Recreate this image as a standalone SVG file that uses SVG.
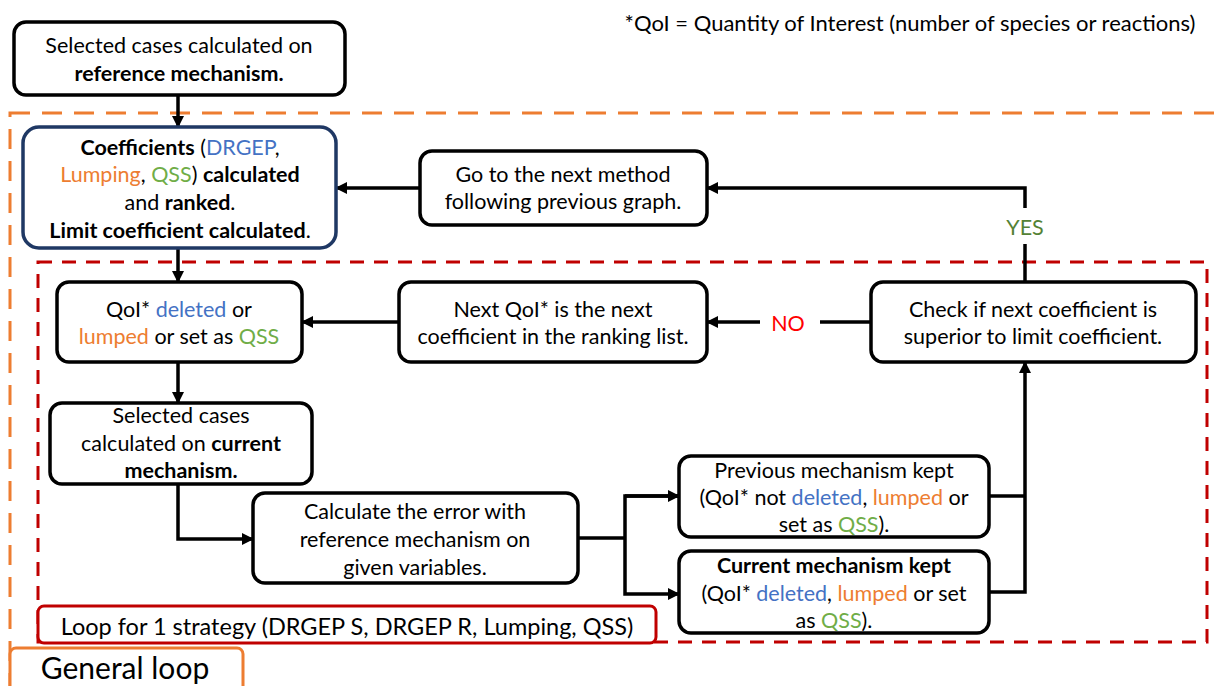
<svg xmlns="http://www.w3.org/2000/svg" width="1221" height="686" viewBox="0 0 1221 686">
<defs>
<marker id="arr" markerWidth="12" markerHeight="12" refX="11" refY="6" orient="auto" markerUnits="userSpaceOnUse">
<path d="M0,0 L12,6 L0,12 Z" fill="#000"/>
</marker>
<style>
text{font-family:Lato,"Liberation Sans",sans-serif;font-size:21.5px;fill:#000;text-anchor:middle}
.b{font-weight:bold}
.bl{fill:#4472c4}
.or{fill:#ed7d31}
.gr{fill:#70ad47}
.box{fill:#fff;stroke:#000;stroke-width:3.5}
.c{fill:none;stroke:#000;stroke-width:3.5}
</style>
</defs>
<rect width="1221" height="686" fill="#fff"/>
<g id="general-loop-frame">
<rect x="10" y="113" width="1230" height="580" fill="none" stroke="#ed7d31" stroke-width="3" stroke-dasharray="20,12"/>
</g>
<g id="strategy-loop-frame">
<rect x="38" y="262" width="1169" height="380" fill="none" stroke="#c00000" stroke-width="3" stroke-dasharray="14,10"/>
</g>
<text x="910" y="31" style="font-size:22px">*QoI = Quantity of Interest (number of species or reactions)</text>
<g id="connectors">
<line class="c" x1="178" y1="95" x2="178" y2="127" marker-end="url(#arr)"/>
<line class="c" x1="420" y1="188" x2="336" y2="188" marker-end="url(#arr)"/>
<polyline class="c" points="1025,282 1025,244"/>
<polyline class="c" points="1025,208 1025,188 707,188" marker-end="url(#arr)"/>
<line class="c" x1="178" y1="248" x2="178" y2="282" marker-end="url(#arr)"/>
<line class="c" x1="399" y1="322" x2="302" y2="322" marker-end="url(#arr)"/>
<line class="c" x1="871" y1="322" x2="820" y2="322"/>
<line class="c" x1="760" y1="322" x2="707" y2="322" marker-end="url(#arr)"/>
<line class="c" x1="178" y1="362" x2="178" y2="403" marker-end="url(#arr)"/>
<polyline class="c" points="178,484 178,539 253,539" marker-end="url(#arr)"/>
<line class="c" x1="578" y1="538" x2="625" y2="538"/>
<polyline class="c" points="679,496 625,496 625,594 679,594" marker-end="url(#arr)"/>
<line class="c" x1="625" y1="496" x2="679" y2="496" marker-end="url(#arr)"/>
<polyline class="c" points="989,496 1025,496"/>
<polyline class="c" points="989,592 1025,592 1025,362" marker-end="url(#arr)"/>
<text x="1025" y="235" style="fill:#548235">YES</text>
<text x="788" y="331" style="fill:#ff0000">NO</text>
</g>
<g id="ref-cases">
<rect class="box" x="14" y="22" width="331" height="73" rx="12"/>
<text x="179" y="53">Selected cases calculated on</text>
<text x="179" y="81" class="b">reference mechanism.</text>
</g>
<g id="coefficients">
<rect x="23" y="127" width="313" height="121" rx="16" fill="#fff" stroke="#1f3864" stroke-width="3.5"/>
<text x="180" y="155"><tspan class="b">Coefficients</tspan> (<tspan class="bl">DRGEP</tspan>,</text>
<text x="180" y="182"><tspan class="or">Lumping</tspan>, <tspan class="gr">QSS</tspan>) <tspan class="b">calculated</tspan></text>
<text x="180" y="210">and <tspan class="b">ranked</tspan>.</text>
<text x="180" y="238"><tspan class="b">Limit coefficient calculated</tspan>.</text>
</g>
<g id="next-method">
<rect class="box" x="420" y="151" width="287" height="74" rx="12"/>
<text x="563" y="182">Go to the next method</text>
<text x="563" y="209">following previous graph.</text>
</g>
<g id="qoi-action">
<rect class="box" x="57" y="282" width="245" height="80" rx="12"/>
<text x="179" y="317">QoI* <tspan class="bl">deleted</tspan> or</text>
<text x="179" y="344"><tspan class="or">lumped</tspan> or set as <tspan class="gr">QSS</tspan></text>
</g>
<g id="next-qoi">
<rect class="box" x="399" y="282" width="308" height="80" rx="12"/>
<text x="553" y="317">Next QoI* is the next</text>
<text x="553" y="344">coefficient in the ranking list.</text>
</g>
<g id="check">
<rect class="box" x="871" y="282" width="325" height="80" rx="12"/>
<text x="1033" y="317">Check if next coefficient is</text>
<text x="1033" y="344">superior to limit coefficient.</text>
</g>
<g id="current-cases">
<rect class="box" x="50" y="403" width="262" height="81" rx="12"/>
<text x="181" y="423">Selected cases</text>
<text x="181" y="451">calculated on <tspan class="b">current</tspan></text>
<text x="181" y="478" class="b">mechanism.</text>
</g>
<g id="error">
<rect class="box" x="253" y="493" width="325" height="90" rx="12"/>
<text x="415" y="519">Calculate the error with</text>
<text x="415" y="547">reference mechanism on</text>
<text x="415" y="575">given variables.</text>
</g>
<g id="previous-kept">
<rect class="box" x="679" y="456" width="310" height="81" rx="12"/>
<text x="834" y="478">Previous mechanism kept</text>
<text x="834" y="505">(QoI* not <tspan class="bl">deleted</tspan>, <tspan class="or">lumped</tspan> or</text>
<text x="834" y="532">set as <tspan class="gr">QSS</tspan>).</text>
</g>
<g id="current-kept">
<rect class="box" x="679" y="551" width="310" height="82" rx="12"/>
<text x="834" y="573" class="b">Current mechanism kept</text>
<text x="834" y="601">(QoI* <tspan class="bl">deleted</tspan>, <tspan class="or">lumped</tspan> or set</text>
<text x="834" y="628">as <tspan class="gr">QSS</tspan>).</text>
</g>
<g id="strategy-label">
<rect x="38" y="606" width="618" height="37" rx="6" fill="#fff" stroke="#c00000" stroke-width="3"/>
<text x="347" y="635" style="font-size:23.5px">Loop for 1 strategy (DRGEP S, DRGEP R, Lumping, QSS)</text>
</g>
<g id="general-label">
<rect x="10" y="648" width="233" height="45" rx="6" fill="#fff" stroke="#ed7d31" stroke-width="3"/>
<text x="125" y="679" style="font-size:30px">General loop</text>
</g>
</svg>
